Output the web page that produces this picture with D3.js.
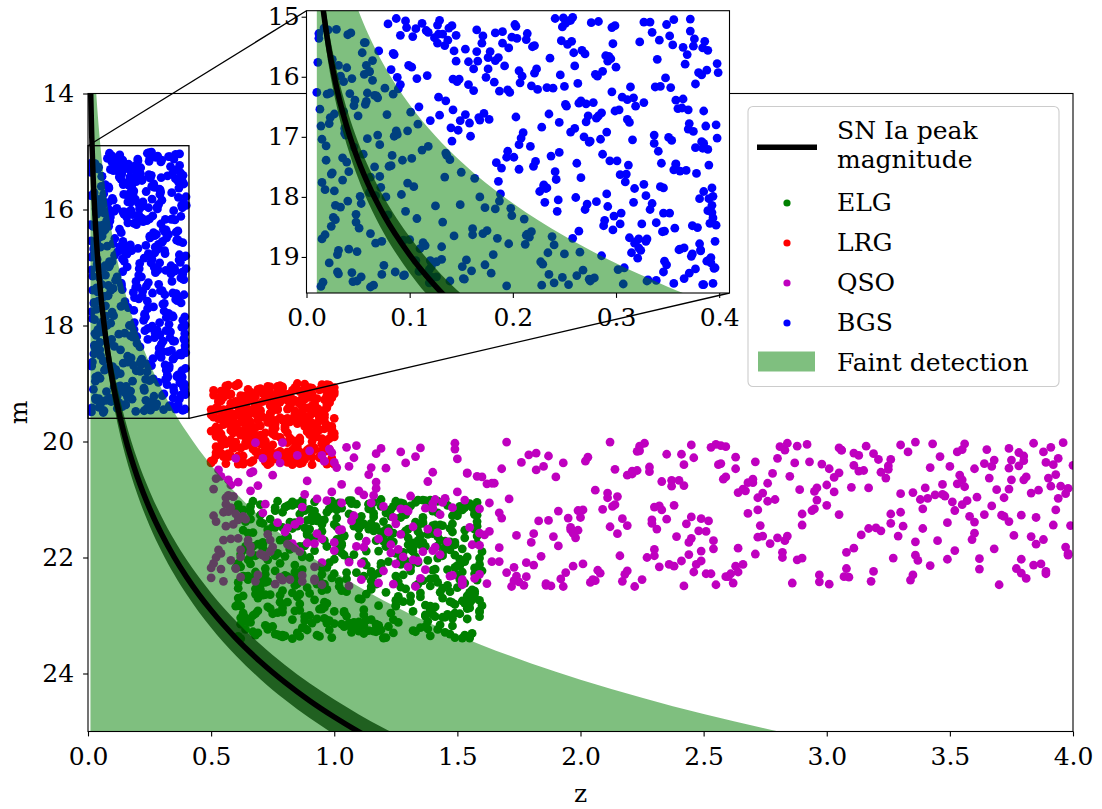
<!DOCTYPE html>
<html><head><meta charset="utf-8">
<script src="https://cdn.jsdelivr.net/npm/d3@7"></script>
<style>body{margin:0;background:#fff}svg{display:block}text{font-family:"DejaVu Serif",serif}</style>
</head><body><svg id="chart" width="1102" height="809"></svg>
<script>
// ---------- data ----------
// SN Ia peak-magnitude curve
const curveZ = [0.01,0.015,0.02,0.03,0.04,0.05,0.06,0.075,0.1,0.125,0.15,0.2,0.25,0.3,0.35,0.4,0.45,0.5,0.6,0.7,0.8,0.9,1.0,1.1,1.2,1.4,1.6,1.8,2.0,2.5,3.0];
const peakM = [13.825,14.714,15.347,16.244,16.884,17.385,17.796,18.304,18.965,19.486,19.916,20.606,21.152,21.605,21.994,22.334,22.638,22.911,23.389,23.797,24.153,24.469,24.750,25.006,25.240,25.654,26.012,26.327,26.607,27.198,27.676];
// bright edge of the "Faint detection" region
const faintM = [11.325,12.214,12.847,13.744,14.384,14.885,15.296,15.804,16.465,16.986,17.416,18.106,18.652,19.105,19.494,19.834,20.138,20.411,20.889,21.297,21.653,21.969,22.250,22.506,22.740,23.154,23.512,23.827,24.107,24.698,25.176];
// dark band around the peak curve
const bandBrightM = [13.525,14.414,15.047,15.944,16.584,17.085,17.496,18.004,18.665,19.186,19.616,20.306,20.852,21.305,21.694,22.034,22.338,22.611,23.089,23.497,23.853,24.169,24.450,24.706,24.940,25.354,25.712,26.027,26.307,26.898,27.376];
const bandFaintM = [14.125,15.014,15.647,16.544,17.184,17.685,18.096,18.604,19.265,19.786,20.216,20.906,21.452,21.905,22.294,22.634,22.938,23.211,23.689,24.097,24.453,24.769,25.050,25.306,25.540,25.954,26.312,26.627,26.907,27.498,27.976];

// BGS: z in thousandths, m in hundredths
const bgsZ = [237,58,391,142,305,17,266,119,348,73,204,385,31,162,291,96,357,228,44,183,
319,125,12,274,398,61,213,338,150,87,366,245,28,190,302,135,377,52,259,106,
343,21,177,286,69,394,154,231,38,313,112,262,371,82,199,27,327,141,250,389,
64,218,355,98,173,296,15,241,132,384,56,279,167,333,91,206,362,47,145,317,
254,36,381,128,222,67,300,159,396,85,187,271,24,349,117,233,374,59,196,322,
102,287,14,370,165,243,78,392,137,309,42,214,356,93,181,264,33,340,126,397,
70,226,311,151,19,283,379,108,192,49,358,239,131,297,62,388,174,26,256,335,
114,203,372,41,268,157,325,88,386,212,55,293,139,364,18,248,171,306,80,399,
229,134,346,66,185,275,11,331,101,258,393,46,162,315,120,247,368,75,207,289,
37,352,143,220,383,94,278,168,29,341,110,236,61,303,194,376,53,260,148,319,
84,390,179,23,294,127,345,210,72,367,155,251,40,330,118,282,16,235,389,97,
198,313,57,265,146,378,30,219,107,351,176,288,68,395,129,242,13,324,186,83,
360,122,246,35,299,161,387,76,227,344,103,272,50,183,318,139,380,65,208,290,
27,253,337,115,197,372,48,281,153,31,362,234,89,310,170,392,22,261,124,347,
79,216,301,44,385,140,267,188,20,329,106,245,373,58,292,166,354,95,221,134,
382,10,257,173,316,86,398,201,62,276,149,339,117,230,45,365,190,297,71,252,
136,321,39,286,211,375,92,160,343,25,249,381,109,194,308,54,270,147,33,356,
224,98,366,178,285,15,327,132,393,69,240,157,304,51,213,371,120,263,394,43,
175,296,87,352,142,228,19,384,113,273,61,335,195,254,30,317,163,99,377,206,
56,241,349,128,281,37,199,361,82,314,152,25,269,397,116,232,385,73,182,298,
141,388,24,217,333,104,262,46,369,183,291,131,12,356,238,91,307,168,389,67,
248,154,323,77,196,280,35,370,121,251,391,59,186,339,102,274,18,221,346,135,
292,49,383,165,233,109,358,28,203,312,88,240,375,145,264,71,195,330,14,256,
329,187,62,283,127,396,39,223,347,158,96,270,377,53,209,304,118,385,172,41,
214,358,100,250,31,337,176,79,299,393,138,22,266,189,322,64,244,384,107,287,
161,36,318,202,112,374,57,235,295,149,15,342,258,84,390,126,206,271,48,365,
85,275,143,394,23,230,327,94,184,353,119,260,40,311,171,382,66,218,346,129];
const bgsM = [1732,1581,1904,1655,1827,1519,1768,1943,1602,1874,1536,1711,1889,1623,1795,1507,1852,1684,1926,1573,
1649,1815,1528,1937,1702,1591,1864,1617,1759,1503,1885,1676,1838,1544,1921,1727,1612,1799,1560,1906,
1783,1522,1671,1898,1635,1944,1554,1809,1697,1868,1511,1744,1927,1588,1831,1662,1779,1515,1895,1721,
1606,1858,1547,1690,1913,1625,1776,1503,1842,1719,1596,1935,1668,1821,1531,1754,1887,1639,1574,1809,
1946,1658,1803,1529,1741,1877,1584,1699,1918,1563,1807,1645,1762,1513,1929,1618,1848,1703,1552,1870,
1736,1591,1949,1687,1522,1824,1663,1901,1539,1775,1628,1862,1505,1739,1896,1644,1817,1571,1933,1680,
1557,1791,1638,1916,1715,1508,1851,1679,1582,1940,1746,1619,1883,1545,1767,1907,1601,1834,1692,1526,
1880,1667,1524,1758,1922,1613,1845,1696,1541,1879,1729,1566,1940,1652,1788,1517,1861,1634,1749,1593,
1912,1548,1785,1631,1869,1707,1576,1938,1659,1501,1826,1717,1587,1893,1673,1540,1756,1914,1610,1839,
1694,1532,1865,1749,1597,1931,1643,1800,1521,1724,1886,1569,1793,1655,1948,1537,1811,1686,1604,1875,
1561,1803,1927,1627,1740,1514,1858,1693,1784,1579,1905,1646,1530,1870,1716,1599,1942,1662,1823,1518,
1819,1676,1543,1892,1608,1761,1925,1550,1836,1701,1587,1848,1632,1919,1506,1771,1654,1889,1568,1731,
1653,1934,1597,1772,1515,1853,1682,1619,1908,1744,1533,1812,1665,1527,1877,1738,1593,1947,1702,1565,
1790,1546,1711,1881,1626,1504,1829,1669,1937,1581,1757,1893,1620,1762,1544,1910,1678,1801,1535,1857,
1512,1867,1740,1603,1946,1685,1556,1795,1629,1874,1520,1726,1899,1641,1816,1574,1706,1930,1594,1767,
1888,1626,1541,1818,1705,1925,1578,1734,1861,1510,1673,1843,1598,1782,1941,1637,1525,1855,1713,1649,
1731,1902,1585,1660,1837,1549,1796,1923,1616,1760,1502,1878,1650,1734,1918,1560,1821,1689,1599,1944,
1621,1777,1936,1558,1704,1870,1643,1529,1814,1697,1943,1575,1763,1852,1538,1678,1906,1611,1799,1527,
1856,1518,1690,1827,1604,1947,1739,1552,1876,1665,1592,1811,1724,1507,1896,1635,1769,1581,1920,1713,
1543,1758,1913,1634,1808,1686,1534,1888,1748,1617,1936,1571,1700,1847,1523,1786,1657,1929,1609,1832,
1707,1589,1849,1716,1509,1783,1931,1648,1563,1820,1692,1904,1536,1755,1866,1613,1945,1672,1556,1798,
1934,1663,1542,1800,1878,1596,1735,1655,1916,1511,1844,1627,1774,1939,1584,1709,1863,1548,1827,1640,
1574,1891,1708,1558,1785,1924,1639,1814,1516,1747,1601,1880,1691,1531,1857,1766,1622,1940,1682,1506,
1798,1624,1950,1665,1544,1874,1742,1587,1907,1677,1824,1562,1718,1933,1599,1845,1526,1791,1661,1887,
1528,1745,1871,1616,1928,1697,1568,1830,1657,1785,1519,1910,1640,1752,1885,1573,1805,1946,1603,1729,
1863,1608,1786,1513,1722,1895,1646,1929,1570,1813,1704,1539,1869,1629,1747,1908,1590,1675,1842,1551,
1699,1940,1557,1835,1668,1780,1509,1872,1743,1618,1921,1582,1807,1671,1532,1890,1750,1615,1925,1664];

// LRG: z in hundredths, m in hundredths
const lrgZ = [73,51,88,62,95,57,81,69,99,54,77,90,60,84,66,97,52,75,86,63,
92,58,79,67,100,53,85,71,94,61,78,56,89,65,98,74,55,82,70,91,
59,87,64,96,76,50,83,68,93,72,57,80,99,62,88,54,75,95,66,84,
78,97,53,70,86,61,91,58,79,100,67,52,89,74,63,94,81,56,72,98,
65,82,95,57,76,89,51,73,96,60,85,69,77,92,55,83,99,64,71,87,
90,54,68,80,62,97,75,59,88,73,50,93,66,84,78,57,95,70,61,86,
56,76,99,63,85,71,94,53,82,67,91,60,79,98,58,74,87,65,96,52,
81,64,73,92,55,87,68,100,61,77,96,54,84,70,90,63,57,93,75,69,
97,59,86,51,74,66,89,78,56,95,62,80,72,99,53,88,67,76,60,91,
68,93,57,83,98,62,71,52,87,75,64,97,58,81,69,92,55,78,85,50,
84,72,61,94,67,79,100,58,73,90,54,66,86,77,96,59,82,63,99,71,
55,88,78,65,53,91,83,70,97,60,87,74,51,93,64,80,98,57,69,85,
94,61,70,99,81,56,67,86,52,79,93,63,89,58,75,65,91,72,54,97,
66,77,96,53,90,74,59,95,84,64,57,82,71,100,62,86,50,79,92,68,
79,100,63,85,58,69,93,61,76,88,71,52,97,66,83,55,74,95,60,89,
52,84,74,91,67,98,56,80,64,94,83,68,59,87,72,99,63,77,54,81,
87,62,95,70,50,83,76,92,57,69,98,85,64,73,56,90,80,61,96,75,
71,96,55,78,89,60,65,99,72,53,81,91,75,62,94,68,85,58,87,64,
60,75,90,66,97,54,87,63,81,95,59,72,94,51,80,97,70,89,66,83,
98,53,81,59,73,92,62,77,68,86,100,57,67,89,61,76,93,55,84,72,
76,89,67,87,55,78,96,51,91,65,74,99,56,82,70,64,88,97,62,58];
const lrgM = [1967,1912,2031,1948,1995,1903,2018,1936,1979,2007,1921,1988,1955,2036,1915,1972,2024,1941,1999,1928,
2011,1959,1906,1984,2039,1932,1969,1917,2026,1950,1993,1909,2015,1945,1976,2033,1924,1962,2003,1938,
1953,2021,1982,1910,1964,2037,1927,1996,1943,2008,1919,1973,2029,1956,1901,1990,1934,2016,1966,1947,
2028,1937,1961,2004,1914,1980,2040,1951,1923,1992,2013,1942,1970,1906,2035,1958,1985,1920,2001,1975,
1926,1994,2019,1944,1977,1908,2032,1963,2006,1931,1957,2023,1912,1986,1949,2038,1918,1971,1997,1940,
1983,1913,1952,2027,1939,1998,1922,2012,1965,1905,2034,1946,1978,1929,2017,1954,1902,1989,2025,1960,
1916,2030,1974,1935,2009,1958,1911,1987,2022,1944,1968,1904,2000,1933,1981,2037,1925,1957,2014,1991,
2002,1947,1925,1991,1961,2035,1940,1918,1983,2020,1953,1930,2010,1973,1907,1966,2026,1943,1980,1910,
1942,1981,2038,1920,1955,2005,1976,1932,1908,2016,1989,1962,1927,2031,1945,1915,1995,2021,1937,1970,
1989,1926,1969,2015,1903,1943,2024,1984,1951,1935,2002,2039,1919,1960,1992,1928,1971,1904,2030,1954,
1931,2010,1950,1980,2033,1916,1960,1997,2040,1924,1948,1985,2018,1905,1965,2008,1938,1982,1913,2027,
2023,1971,1904,1956,1988,2027,1912,1946,1972,2001,1913,2034,1958,1992,1922,1979,2013,1949,1963,1900,
1958,1902,1993,2037,1919,1967,2005,1935,2019,1963,1977,1922,1942,2025,1987,1910,1952,2035,1996,1931,
2036,1944,1978,1924,2012,1951,1985,2029,1907,1940,2021,1966,1994,1914,1939,2000,1982,1926,1950,2017,
1909,1986,2025,1962,1934,2018,1948,1900,1990,1974,1931,2009,1902,1969,2028,1945,1917,2004,1975,1957,
1975,2016,1938,1908,1981,1923,2038,1963,1936,2027,1998,1952,1975,2037,1911,1986,1961,1933,2020,1944,
1948,1921,2003,1991,1945,2040,1970,2014,1958,1913,1933,2022,1990,1927,2004,1956,2032,1984,1906,1973,
2020,1958,1915,2032,1968,1903,1993,1925,2009,1978,2036,1918,1947,2011,1964,1923,1999,1951,1938,2007,
1937,2006,1973,1946,1921,1987,1955,2039,1929,1947,1965,1999,2028,1954,1976,2016,1909,1966,1992,1930,
1995,1930,2027,1975,2024,1935,2011,1945,1976,1994,1907,1956,1930,1983,2039,1942,1969,2026,1953,1985,
1964,2025,1946,1912,1996,1959,1928,1981,2000,1926,2015,1978,1904,2023,1949,1993,1927,2011,1967,1918];

// ELG: z in hundredths, m in hundredths
const elgZ = [113,67,148,92,131,74,156,101,85,140,63,122,97,153,79,136,109,61,145,88,
127,70,159,104,83,142,117,65,134,96,151,76,120,89,157,106,72,138,93,125,
64,149,111,81,133,98,155,69,124,86,146,103,77,137,114,62,152,91,129,80,
143,107,71,158,95,119,66,139,84,150,102,128,75,160,90,116,68,135,99,147,
82,126,154,73,110,141,87,60,132,118,94,157,78,123,105,145,70,136,112,89,
150,97,63,130,115,84,152,100,76,144,108,66,121,139,91,155,81,117,62,133,
104,138,87,124,68,147,113,95,159,72,128,86,149,106,64,134,98,119,153,77,
131,61,116,92,142,79,125,156,101,70,137,88,111,146,83,120,158,67,129,96,
74,152,103,137,85,118,65,143,94,127,160,80,108,69,140,115,90,132,73,148,
119,89,157,66,125,100,135,78,150,112,63,144,97,121,86,154,105,75,138,62,
145,113,79,102,154,87,129,61,116,141,99,72,135,91,157,68,123,110,83,151,
93,134,148,71,107,83,140,119,88,62,153,126,82,159,104,136,77,147,95,114,
66,125,98,155,80,144,71,109,131,93,118,149,64,128,85,102,142,117,157,74,
137,81,121,68,148,114,96,160,76,135,105,87,124,152,70,145,99,63,112,130,
87,158,112,134,95,61,127,84,146,103,139,69,115,94,133,80,156,126,101,67,
150,72,103,143,119,90,153,123,65,110,82,131,158,78,97,120,141,86,149,107,
62,130,86,116,77,136,101,141,92,159,72,147,108,66,151,89,114,74,132,96,
124,105,153,91,128,69,117,79,155,121,98,62,139,85,125,110,65,154,83,140,
78,144,67,108,151,96,138,63,113,88,148,116,81,144,103,60,133,97,122,157,
141,92,133,79,122,110,73,150,99,131,64,106,159,120,76,137,94,146,70,115,
100,156,118,146,64,84,128,107,70,143,123,92,75,136,115,151,84,128,109,61,
69,120,80,127,104,157,95,137,87,60,112,155,130,97,68,106,158,79,144,90,
155,83,142,61,139,76,117,91,152,126,78,139,100,61,148,124,71,118,136,103,
108,135,95,112,88,147,65,159,114,102,149,84,117,154,89,129,98,142,66,127,
82,63,158,132,71,122,104,80,134,67,121,95,62,143,110,81,152,87,112,153,
147,115,75,96,153,99,142,125,73,157,88,134,111,85,125,67,139,104,76,95,
116,93,128,68,109,132,85,145,107,90,140,71,149,127,93,156,115,73,158,84,
73,149,101,139,86,60,119,97,130,115,64,103,157,79,142,100,63,131,92,118];
const elgM = [2213,2157,2318,2104,2266,2189,2331,2132,2245,2298,2118,2207,2279,2166,2337,2141,2226,2109,2303,2180,
2251,2127,2292,2196,2110,2324,2171,2238,2145,2286,2203,2119,2339,2158,2262,2102,2219,2310,2137,2274,
2186,2296,2144,2233,2328,2116,2260,2177,2307,2125,2248,2192,2103,2282,2151,2315,2208,2130,2254,2169,
2316,2107,2241,2163,2289,2215,2134,2335,2182,2252,2106,2276,2147,2223,2300,2124,2197,2268,2113,2332,
2139,2271,2199,2320,2150,2236,2108,2284,2175,2326,2135,2258,2210,2117,2301,2183,2247,2101,2290,2161,
2230,2122,2306,2178,2255,2140,2339,2203,2114,2270,2195,2312,2152,2237,2128,2287,2167,2322,2216,2105,
2295,2160,2221,2112,2334,2187,2263,2143,2302,2229,2120,2280,2174,2313,2138,2209,2325,2156,2244,2193,
2111,2243,2327,2165,2201,2294,2133,2256,2188,2109,2319,2149,2272,2221,2104,2338,2176,2235,2126,2305,
2264,2185,2115,2299,2146,2227,2311,2170,2240,2106,2283,2198,2136,2330,2159,2250,2117,2293,2204,2142,
2325,2136,2269,2211,2103,2314,2162,2277,2124,2232,2296,2145,2217,2338,2181,2107,2259,2190,2323,2131,
2172,2308,2148,2250,2288,2119,2206,2336,2154,2285,2111,2243,2321,2168,2228,2297,2129,2271,2150,2214,
2246,2101,2278,2184,2127,2340,2222,2100,2309,2194,2153,2267,2109,2201,2293,2139,2333,2173,2257,2116,
2121,2282,2209,2335,2167,2253,2141,2316,2216,2130,2318,2178,2304,2121,2245,2185,2103,2315,2126,2288,
2301,2164,2123,2225,2305,2108,2277,2190,2148,2261,2237,2102,2158,2275,2140,2329,2235,2153,2299,2211,
2194,2239,2331,2155,2218,2281,2131,2248,2298,2163,2105,2292,2227,2336,2199,2113,2273,2242,2169,2328,
2128,2317,2176,2260,2112,2200,2334,2160,2232,2327,2186,2223,2138,2265,2308,2172,2144,2291,2217,2102,
2284,2151,2263,2105,2295,2174,2118,2302,2135,2212,2264,2150,2320,2198,2112,2252,2326,2134,2190,2246,
2173,2226,2114,2313,2191,2243,2328,2122,2279,2181,2117,2340,2249,2107,2284,2163,2204,2306,2261,2145,
2335,2192,2300,2146,2238,2135,2205,2266,2189,2322,2156,2231,2111,2303,2179,2218,2139,2255,2319,2120,
2220,2120,2249,2287,2173,2311,2152,2214,2103,2276,2233,2125,2274,2164,2332,2102,2289,2177,2236,2307,
2143,2269,2189,2110,2324,2234,2107,2329,2255,2144,2296,2188,2319,2240,2141,2297,2225,2159,2108,2270,
2270,2138,2335,2212,2163,2125,2287,2181,2321,2115,2207,2339,2116,2181,2263,2205,2127,2334,2197,2151,
2107,2307,2180,2253,2284,2197,2246,2137,2225,2312,2170,2101,2293,2210,2128,2330,2174,2283,2131,2257,
2312,2178,2229,2142,2119,2276,2158,2294,2108,2241,2338,2213,2147,2266,2325,2154,2309,2243,2112,2203,
2185,2232,2105,2326,2265,2150,2319,2231,2171,2103,2260,2155,2304,2196,2137,2277,2118,2199,2317,2279,
2259,2116,2297,2171,2207,2338,2123,2193,2285,2151,2302,2246,2129,2330,2232,2181,2290,2162,2223,2136,
2130,2334,2230,2254,2137,2183,2268,2100,2322,2262,2120,2177,2281,2108,2306,2113,2240,2324,2146,2292,
2241,2196,2147,2289,2336,2118,2210,2313,2166,2224,2181,2315,2218,2257,2164,2228,2134,2186,2273,2317];

// QSO: z in hundredths, m in hundredths
const qsoZ = [213,87,342,156,281,398,64,237,175,319,102,264,377,129,55,296,188,354,143,226,
311,71,252,387,165,93,330,208,59,273,149,362,117,245,392,82,199,305,136,58,
168,284,381,112,223,51,337,259,191,96,370,140,317,77,232,289,124,396,180,261,
92,356,201,133,278,62,321,243,171,389,105,254,52,307,159,364,216,84,340,119,
272,186,68,331,227,375,146,99,268,384,206,53,297,163,346,127,237,79,313,195,
349,114,249,57,293,178,394,138,224,75,352,262,106,189,327,88,283,372,152,61,
235,398,131,206,314,90,173,266,360,67,241,150,385,120,303,55,212,343,100,279,
65,300,159,380,110,248,325,184,76,353,217,137,292,58,397,167,256,95,366,142,
324,177,86,270,365,123,194,56,301,239,383,108,167,334,71,221,288,153,378,204,
157,242,359,97,219,285,52,336,181,393,126,258,81,316,145,230,368,113,274,60,
388,73,295,164,339,202,118,251,69,308,187,358,92,233,399,135,276,54,198,322,
108,263,154,391,66,229,347,147,287,103,255,372,61,197,313,84,245,160,356,128,
290,215,53,320,121,367,182,74,238,386,140,271,209,100,335,59,300,172,87,246,
374,133,259,89,277,193,63,350,115,225,161,306,395,70,183,257,130,344,215,51,
162,336,98,244,57,381,134,294,203,80,362,117,254,325,93,389,155,224,68,310,
228,61,308,179,360,103,263,148,345,223,58,286,170,374,111,240,82,330,193,272,
83,390,140,217,298,72,196,369,109,251,330,89,219,62,353,144,282,374,125,235,
341,167,271,55,186,317,127,230,392,158,78,338,245,132,270,207,96,159,398,106,
197,253,112,355,137,264,56,311,178,95,284,371,173,303,52,221,329,246,72,375,
60,319,231,150,384,92,205,364,75,238,143,400,106,187,259,123,361,50,290,164,
266,129,378,69,249,333,162,274,124,347,196,60,326,99,383,192,66,232,349,117,
138,301,81,214,154,58,290,380,211,54,315,229,152,388,78,295,140,306,103,379,
385,176,247,339,95,267,118,351,86,288,170,122,268,212,141,348,260,77,214,280,
74,357,190,111,374,200,71,182,322,135,391,263,50,305,249,101,191,368,152,59,
255,100,326,242,66,318,241,397,148,257,65,335,199,85,174,376,57,280,125,342,
309,211,62,389,174,149,355,92,276,379,201,109,360,242,116,311,219,132,393,230,
130,282,367,120,296,56,222,305,159,54,233,297,141,394,283,168,379,66,244,185,
352,95,163,272,218,380,107,236,115,336,79,181,253,51,127,228,87,326,355,264];
const qsoM = [2112,2231,2045,2178,2009,2196,2134,2067,2242,2021,2153,2088,2219,2037,2170,2101,2249,2058,2126,2003,
2184,2029,2137,2211,2072,2159,2006,2227,2095,2145,2013,2202,2081,2167,2040,2238,2119,2054,2190,2075,
2047,2163,2236,2092,2017,2128,2205,2061,2180,2034,2247,2107,2150,2024,2216,2083,2131,2002,2174,2228,
2216,2078,2118,2250,2055,2187,2031,2142,2099,2224,2010,2171,2064,2233,2116,2038,2197,2143,2080,2012,
2097,2245,2002,2146,2200,2066,2173,2019,2124,2213,2084,2049,2230,2106,2026,2160,2077,2239,2051,2132,
2140,2057,2189,2121,2035,2233,2098,2151,2008,2182,2119,2244,2043,2164,2201,2091,2015,2129,2247,2070,
2022,2193,2094,2240,2161,2016,2217,2082,2139,2052,2206,2030,2177,2112,2062,2241,2147,2004,2188,2100,
2175,2110,2229,2033,2085,2154,2042,2198,2246,2073,2133,2221,2005,2168,2090,2123,2040,2209,2063,2157,
2063,2248,2137,2071,2014,2192,2226,2108,2047,2164,2089,2028,2183,2239,2123,2056,2204,2101,2019,2243,
2236,2040,2169,2102,2223,2060,2138,2001,2213,2118,2186,2065,2149,2008,2098,2197,2032,2172,2089,2125,
2018,2160,2086,2207,2116,2034,2244,2155,2076,2191,2025,2129,2237,2069,2145,2011,2103,2220,2166,2053,
2128,2215,2055,2010,2181,2141,2074,2232,2037,2152,2247,2097,2167,2215,2024,2184,2130,2061,2004,2199,
2201,2095,2187,2149,2046,2111,2020,2170,2215,2084,2053,2194,2117,2036,2230,2143,2075,2250,2113,2028,
2082,2026,2233,2068,2176,2250,2129,2043,2106,2238,2161,2015,2077,2194,2137,2007,2216,2092,2159,2210,
2245,2173,2013,2195,2093,2061,2206,2119,2027,2156,2220,2070,2185,2048,2099,2228,2148,2016,2241,2079,
2044,2135,2219,2023,2158,2106,2047,2231,2171,2050,2114,2244,2001,2138,2210,2067,2179,2122,2037,2165,
2176,2063,2115,2241,2039,2199,2152,2083,2007,2228,2090,2175,2058,2234,2018,2105,2191,2046,2211,2134,
2098,2207,2035,2122,2248,2080,2018,2186,2144,2060,2234,2100,2006,2147,2065,2222,2034,2158,2081,2249,
2158,2010,2182,2066,2115,2225,2097,2041,2209,2168,2003,2127,2240,2087,2200,2051,2163,2225,2108,2032,
2029,2224,2151,2087,2003,2176,2238,2126,2058,2110,2195,2041,2208,2136,2009,2178,2096,2235,2144,2072,
2212,2117,2042,2230,2133,2018,2073,2163,2246,2091,2148,2219,2031,2087,2164,2237,2054,2111,2203,2021,
2069,2246,2177,2109,2054,2205,2125,2025,2097,2193,2050,2135,2243,2169,2037,2116,2188,2015,2074,2227,
2131,2036,2212,2150,2247,2085,2168,2104,2190,2008,2226,2156,2071,2001,2182,2094,2233,2140,2048,2166,
2190,2102,2061,2238,2012,2131,2196,2049,2154,2236,2077,2027,2218,2126,2206,2045,2120,2185,2238,2095,
2005,2174,2125,2076,2191,2241,2022,2182,2114,2038,2170,2088,2153,2024,2232,2162,2066,2029,2142,2214,
2234,2089,2199,2036,2162,2003,2109,2240,2072,2127,2211,2181,2047,2249,2093,2020,2145,2204,2057,2113,
2120,2200,2043,2223,2080,2146,2250,2011,2179,2060,2118,2242,2100,2029,2171,2132,2203,2085,2174,2043,
2188,2024,2155,2118,2229,2066,2137,2212,2045,2196,2002,2159,2228,2082,2116,2052,2241,2141,2014,2184];

// axes ticks and labels
const mainZTicks = [0,0.5,1.0,1.5,2.0,2.5,3.0,3.5,4.0];
const mainMTicks = [14,16,18,20,22,24];
const insetZTicks = [0,0.1,0.2,0.3,0.4];
const insetMTicks = [15,16,17,18,19];
const mainZDomain = [0,4];
const mainMDomain = [14,25];
const insetZDomain = [0,0.41];
const insetMDomain = [14.9,19.6];
const legendLabels = [["SN Ia peak","magnitude"],["ELG"],["LRG"],["QSO"],["BGS"],["Faint detection"]];

// ---------- drawing ----------
const svg = d3.select("#chart");
svg.append("rect").attr("width",1102).attr("height",809).attr("fill","#fff");
const defs = svg.append("defs");
const FS = 25, R = 4.4;

const toPts = (zs, ms, zDiv) => d3.range(Math.min(zs.length, ms.length)).map(i => ({z: zs[i]/zDiv, m: ms[i]/100}));
const series = [
  {name:"ELG", color:"#008000", pts: toPts(elgZ, elgM, 100)},
  {name:"LRG", color:"#ff0000", pts: toPts(lrgZ, lrgM, 100)},
  {name:"QSO", color:"#bf00bf", pts: toPts(qsoZ, qsoM, 100)},
  {name:"BGS", color:"#0000ff", pts: toPts(bgsZ, bgsM, 1000)}
];
const curve = curveZ.map((z,i) => ({z, peak: peakM[i], faint: faintM[i], lo: bandBrightM[i], hi: bandFaintM[i]}));

function drawPanel(g, x, y, id) {
  const [xa,xb] = x.range(), [ya,yb] = y.range();
  defs.append("clipPath").attr("id", id).append("rect")
    .attr("x", xa).attr("y", ya).attr("width", xb-xa).attr("height", yb-ya);
  g.append("rect").attr("x",xa).attr("y",ya).attr("width",xb-xa).attr("height",yb-ya).attr("fill","#fff");
  const inner = g.append("g").attr("clip-path", `url(#${id})`);
  series.forEach(s => {
    inner.append("g").selectAll("circle").data(s.pts).join("circle")
      .attr("cx", d => x(d.z)).attr("cy", d => y(d.m)).attr("r", R).attr("fill", s.color);
  });
  const bottom = y.domain()[1];
  inner.append("path").datum(curve)
    .attr("d", d3.area().x(d => x(d.z)).y0(y(bottom)).y1(d => y(d.faint)).curve(d3.curveMonotoneX))
    .attr("fill", "#008000").attr("fill-opacity", 0.5);
  inner.append("path").datum(curve)
    .attr("d", d3.area().x(d => x(d.z)).y0(d => y(d.hi)).y1(d => y(d.lo)).curve(d3.curveMonotoneX))
    .attr("fill", "#004000").attr("fill-opacity", 0.75);
  inner.append("path").datum(curve)
    .attr("d", d3.line().x(d => x(d.z)).y(d => y(d.peak)).curve(d3.curveMonotoneX))
    .attr("fill", "none").attr("stroke", "#000").attr("stroke-width", 5.5);
}

function drawAxes(g, x, y, zTicks, mTicks, padX, padY) {
  const [xa,xb] = x.range(), [ya,yb] = y.range();
  const ax = g.append("g").attr("transform", `translate(0,${yb})`)
    .call(d3.axisBottom(x).tickValues(zTicks).tickFormat(d3.format(".1f")).tickSize(4.9).tickPadding(padX));
  const ay = g.append("g").attr("transform", `translate(${xa},0)`)
    .call(d3.axisLeft(y).tickValues(mTicks).tickFormat(d3.format("d")).tickSize(4.9).tickPadding(padY));
  [ax, ay].forEach(a => {
    a.select(".domain").remove();
    a.selectAll("line").attr("stroke", "#000").attr("stroke-width", 1.1);
    a.selectAll("text").attr("font-size", FS).attr("font-family", "DejaVu Serif").attr("fill", "#000");
  });
  g.append("rect").attr("x",xa).attr("y",ya).attr("width",xb-xa).attr("height",yb-ya)
    .attr("fill","none").attr("stroke","#000").attr("stroke-width",1.1);
}

// main axes
const x = d3.scaleLinear().domain(mainZDomain).range([88,1073]);
const y = d3.scaleLinear().domain(mainMDomain).range([93.5,731.5]);
const gMain = svg.append("g");
drawPanel(gMain, x, y, "clipMain");
drawAxes(gMain, x, y, mainZTicks, mainMTicks, 11, 9);

svg.append("text").attr("x", (88+1073)/2).attr("y", 802).attr("text-anchor","middle")
  .attr("font-size", FS).text("z");
svg.append("text").attr("transform", "translate(27,412.5) rotate(-90)").attr("text-anchor","middle")
  .attr("font-size", FS).text("m");

// inset indicator rectangle + connectors
const rx0 = x(insetZDomain[0]), rx1 = x(insetZDomain[1]);
const ry0 = y(insetMDomain[0]), ry1 = y(insetMDomain[1]);
svg.append("rect").attr("x", rx0).attr("y", ry0).attr("width", rx1-rx0).attr("height", ry1-ry0)
  .attr("fill","none").attr("stroke","#000").attr("stroke-width",1.3);

const xi = d3.scaleLinear().domain(insetZDomain).range([306.5,729.5]);
const yi = d3.scaleLinear().domain(insetMDomain).range([10.7,293]);
svg.append("line").attr("x1", rx0).attr("y1", ry0).attr("x2", xi.range()[0]).attr("y2", yi.range()[0])
  .attr("stroke","#000").attr("stroke-width",1.3);
svg.append("line").attr("x1", rx1).attr("y1", ry1).attr("x2", xi.range()[1]).attr("y2", yi.range()[1])
  .attr("stroke","#000").attr("stroke-width",1.3);

// legend
const lg = svg.append("g");
lg.append("rect").attr("x",748).attr("y",106.5).attr("width",311).attr("height",280).attr("rx",5)
  .attr("fill","#fff").attr("fill-opacity",0.8).attr("stroke","#cccccc").attr("stroke-width",1.1);
lg.append("line").attr("x1",757).attr("x2",817).attr("y1",147.3).attr("y2",147.3)
  .attr("stroke","#000").attr("stroke-width",5.5);
lg.append("text").attr("x",837).attr("y",139).attr("font-size",FS).text(legendLabels[0][0]);
lg.append("text").attr("x",837).attr("y",167.5).attr("font-size",FS).text(legendLabels[0][1]);
series.forEach((s,i) => {
  const by = 210.5 + 40*i;
  lg.append("circle").attr("cx",787).attr("cy",by-7.5).attr("r",3.6).attr("fill",s.color);
  lg.append("text").attr("x",837).attr("y",by).attr("font-size",FS).text(legendLabels[i+1][0]);
});
lg.append("rect").attr("x",758).attr("y",351.5).attr("width",57).attr("height",20)
  .attr("fill","#008000").attr("fill-opacity",0.5);
lg.append("text").attr("x",837).attr("y",370.5).attr("font-size",FS).text(legendLabels[5][0]);

// inset axes
const gInset = svg.append("g");
drawPanel(gInset, xi, yi, "clipInset");
drawAxes(gInset, xi, yi, insetZTicks, insetMTicks, 10.5, 2);
</script>
</body></html>
